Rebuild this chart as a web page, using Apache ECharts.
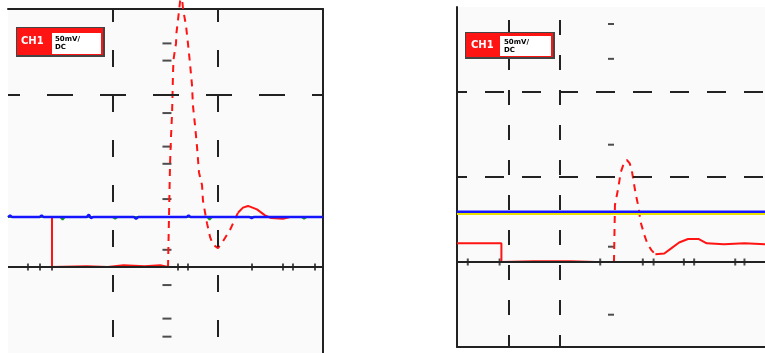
<!DOCTYPE html>
<html>
<head>
<meta charset="utf-8">
<title>CH1 captures</title>
<script src="https://cdn.jsdelivr.net/npm/echarts@6/dist/echarts.min.js"></script>
<style>
	html,body{margin:0;padding:0;background:#fff}
	#chart{width:765px;height:353px}
</style>
</head>
<body>
<div id="chart"></div>
<script>
// x = time divisions, y = vertical divisions (0 = trigger axis)
var leftStep = [[0,0.58],[0.419,0.58],[0.419,0],[0.75,0.01],[0.95,0],[1.1,0.02],[1.3,0.01],[1.45,0.02],[1.524,0]];
var leftPulse = [[1.524,0],[1.543,1.19],[1.552,1.5],[1.562,1.77],[1.567,2.0],[1.571,2.23],[1.576,2.41],[1.6,2.6],[1.605,2.73],[1.619,2.87],[1.638,3.08],[1.652,3.2],[1.667,3.0],[1.695,2.81],[1.714,2.6],[1.733,2.37],[1.752,2.12],[1.762,1.87],[1.781,1.65],[1.8,1.4],[1.819,1.1],[1.848,0.95],[1.857,0.77],[1.895,0.51],[1.924,0.35],[1.952,0.26],[2.0,0.22],[2.038,0.28],[2.114,0.43],[2.19,0.63]];
var leftTail = [[2.19,0.63],[2.238,0.69],[2.286,0.71],[2.371,0.67],[2.448,0.6],[2.505,0.57],[2.619,0.56],[2.686,0.58],[3,0.58]];
var leftBlue = [[0,0.58],[0.02,0.6],[0.04,0.58],[0.3,0.58],[0.32,0.6],[0.34,0.58],[0.75,0.58],[0.77,0.61],[0.79,0.57],[0.81,0.58],[1.2,0.58],[1.22,0.56],[1.24,0.58],[1.7,0.58],[1.72,0.6],[1.74,0.58],[2.3,0.58],[2.32,0.57],[2.34,0.58],[3,0.58]];
var leftGreen = [[0,0.58],[0.5,0.58],[0.52,0.55],[0.54,0.58],[1.0,0.58],[1.02,0.56],[1.04,0.58],[1.9,0.58],[1.92,0.55],[1.94,0.58],[2.8,0.58],[2.82,0.56],[2.84,0.58],[3,0.58]];
var leftTicks = [0.19,0.305,0.419,1.619,1.714,2.324,2.619,2.714,2.924];
var leftMinor = [2.6,2.4,1.79,1.4,1.2,0.79,0.2,-0.21,-0.6,-0.81];

var rightStep = [[0,0.22],[0.865,0.22],[0.865,0],[1.5,0.01],[2.2,0.01],[2.7,0],[3.058,0]];
var rightPulse = [[3.058,0],[3.077,0.67],[3.135,0.85],[3.192,1.06],[3.25,1.16],[3.308,1.2],[3.365,1.16],[3.404,1.08],[3.442,0.94],[3.481,0.8],[3.538,0.64],[3.577,0.47],[3.654,0.31],[3.712,0.21],[3.788,0.14],[3.865,0.09]];
var rightTail = [[3.865,0.09],[4.038,0.1],[4.173,0.16],[4.327,0.23],[4.5,0.27],[4.712,0.27],[4.865,0.22],[5.2,0.21],[5.6,0.22],[6,0.21]];
var rightBlue = [[0,0.59],[0.6,0.59],[0.62,0.61],[0.64,0.59],[1.5,0.59],[1.52,0.57],[1.54,0.59],[2.6,0.59],[2.62,0.61],[2.64,0.59],[4.1,0.59],[4.12,0.57],[4.14,0.59],[5.7,0.59],[5.72,0.57],[5.74,0.59],[6,0.59]];
var rightYellow = [[0,0.565],[6,0.565]];
var rightTicks = [0.21,0.83,2.79,3.62,3.83,4.42,4.62,5.42,5.6];
var rightMinor = [2.8,2.39,1.38,0.18,-0.62];

var ink = '#222';
var red = '#ff1414';
var blue = '#1414ff';

function pts(xs, y) { return xs.map(function (x) { return [x, y]; }); }
function ptsY(x, ys) { return ys.map(function (y) { return [x, y]; }); }

function trace(name, data, g, color, dashed, z, w) {
	return {
		name: name, type: 'line', xAxisIndex: g, yAxisIndex: g, data: data,
		showSymbol: false, clip: false, z: z,
		lineStyle: {color: color, width: w || 2, type: dashed ? [7, 6] : 'solid'}
	};
}

function decor(g, lines) {
	return {
		type: 'line', xAxisIndex: g, yAxisIndex: g, data: [], silent: true, z: 1,
		markLine: {silent: true, symbol: ['none', 'none'], label: {show: false}, animation: false, data: lines}
	};
}

var myChart = echarts.init(document.getElementById('chart'));
var option = {
	animation: false,
	backgroundColor: '#fff',
	grid: [
		{left: 8, top: 9, width: 315, height: 344, show: true, backgroundColor: '#fafafa', borderWidth: 0},
		{left: 457, top: 7, width: 312, height: 340, show: true, backgroundColor: '#fafafa', borderWidth: 0}
	],
	xAxis: [
		{gridIndex: 0, type: 'value', min: 0, max: 3, position: 'top',
			axisLine: {onZero: false, lineStyle: {color: ink, width: 2}},
			axisTick: {show: false}, axisLabel: {show: false}, splitLine: {show: false}},
		{gridIndex: 1, type: 'value', min: 0, max: 6, position: 'bottom',
			axisLine: {onZero: false, lineStyle: {color: ink, width: 2}},
			axisTick: {show: false}, axisLabel: {show: false}, splitLine: {show: false}}
	],
	yAxis: [
		{gridIndex: 0, type: 'value', min: -1, max: 3, position: 'right',
			axisLine: {show: true, onZero: false, lineStyle: {color: ink, width: 2}},
			axisTick: {show: false}, axisLabel: {show: false}, splitLine: {show: false}},
		{gridIndex: 1, type: 'value', min: -1, max: 3, position: 'left',
			axisLine: {show: true, onZero: false, lineStyle: {color: ink, width: 2}},
			axisTick: {show: false}, axisLabel: {show: false}, splitLine: {show: false}}
	],
	series: [
		decor(0, [
			{xAxis: 1, lineStyle: {color: ink, width: 2, type: [17, 28], dashOffset: 29}},
			{xAxis: 2, lineStyle: {color: ink, width: 2, type: [17, 28], dashOffset: 29}},
			{yAxis: 2, lineStyle: {color: ink, width: 2, type: [26, 27], dashOffset: 14}},
			{yAxis: 0, lineStyle: {color: ink, width: 2, type: 'solid'}}
		]),
		decor(1, [
			{xAxis: 1, lineStyle: {color: ink, width: 2, type: [15, 20], dashOffset: 3}},
			{xAxis: 2, lineStyle: {color: ink, width: 2, type: [15, 20], dashOffset: 3}},
			{yAxis: 1, lineStyle: {color: ink, width: 2, type: [19, 18], dashOffset: 9}},
			{yAxis: 2, lineStyle: {color: ink, width: 2, type: [19, 18], dashOffset: 9}},
			{yAxis: 0, lineStyle: {color: ink, width: 2, type: 'solid'}}
		]),
		{type: 'scatter', xAxisIndex: 0, yAxisIndex: 0, data: pts(leftTicks, 0), symbol: 'rect', symbolSize: [2, 7], itemStyle: {color: ink}, silent: true, z: 2},
		{type: 'scatter', xAxisIndex: 1, yAxisIndex: 1, data: pts(rightTicks, 0), symbol: 'rect', symbolSize: [2, 7], itemStyle: {color: ink}, silent: true, z: 2},
		{type: 'scatter', xAxisIndex: 0, yAxisIndex: 0, data: ptsY(1.514, leftMinor), symbol: 'rect', symbolSize: [9, 2], itemStyle: {color: ink}, silent: true, z: 2},
		{type: 'scatter', xAxisIndex: 1, yAxisIndex: 1, data: ptsY(3.0, rightMinor), symbol: 'rect', symbolSize: [6, 2], itemStyle: {color: ink}, silent: true, z: 2},

		trace('CH1', leftStep, 0, red, false, 3),
		trace('CH1', leftPulse, 0, red, true, 3),
		trace('CH1', leftTail, 0, red, false, 3),
		trace('CH3', leftGreen, 0, '#1a9a1a', false, 4),
		trace('CH2', leftBlue, 0, blue, false, 5, 2.5),

		trace('CH1', rightStep, 1, red, false, 3),
		trace('CH1', rightPulse, 1, red, true, 3),
		trace('CH1', rightTail, 1, red, false, 3),
		trace('CH4', rightYellow, 1, '#e8e000', false, 4),
		trace('CH2', rightBlue, 1, blue, false, 5, 2.5)
	],
	graphic: [
		{type: 'rect', shape: {x: 16, y: 27, width: 89, height: 30}, style: {fill: '#444'}, z: 10},
		{type: 'rect', shape: {x: 17, y: 28, width: 86, height: 27}, style: {fill: red}, z: 10},
		{type: 'rect', shape: {x: 52, y: 33, width: 49, height: 21}, style: {fill: '#fff'}, z: 10},
		{type: 'text', x: 21, y: 36, style: {text: 'CH1', fill: '#fff', font: 'bold 10px "DejaVu Sans"'}, z: 11},
		{type: 'text', x: 55, y: 35, style: {text: '50mV/\nDC', fill: '#000', font: 'bold 7px "DejaVu Sans"', lineHeight: 8}, z: 11},

		{type: 'rect', shape: {x: 465, y: 32, width: 90, height: 27}, style: {fill: '#444'}, z: 10},
		{type: 'rect', shape: {x: 466, y: 33, width: 87, height: 24}, style: {fill: red}, z: 10},
		{type: 'rect', shape: {x: 500, y: 36, width: 51, height: 20}, style: {fill: '#fff'}, z: 10},
		{type: 'text', x: 471, y: 40, style: {text: 'CH1', fill: '#fff', font: 'bold 10px "DejaVu Sans"'}, z: 11},
		{type: 'text', x: 504, y: 38, style: {text: '50mV/\nDC', fill: '#000', font: 'bold 7px "DejaVu Sans"', lineHeight: 8}, z: 11}
	]
};
myChart.setOption(option);
</script>
</body>
</html>
